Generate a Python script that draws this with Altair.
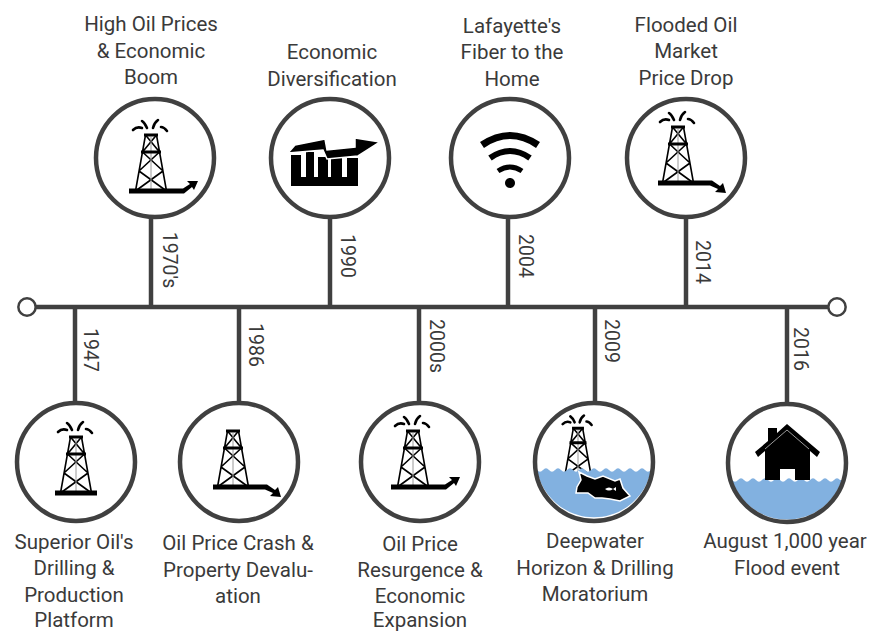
import altair as alt
import pandas as pd

INK = "#404040"
TEXT = "#3a3a3a"
BLACK = "#000000"
WATER = "#82b1e0"
FONT = "Roboto"
FS = 20.5

# Events
years = ["1947", "1970's", "1986", "1990", "2000s", "2004", "2009", "2014", "2016"]
stem_x = [75, 151, 239, 330, 419, 508, 595, 686, 787]
stem_y = [402, 218, 402, 218, 402, 218, 402, 218, 402]
year_x = [90, 169, 255, 347, 436, 525, 611, 702, 800]
year_y = [350, 260, 345, 256, 346, 256, 341, 262, 349]
circle_x = [76, 155, 239, 330, 420, 510, 594, 686, 787]
circle_y = [462, 158, 462, 158, 462, 158, 462, 158, 463]

# Timeline
line_x = [36]
line_x2 = [830]
line_y = [307]
end_x = [27, 837]
end_y = [307, 307]

# Label lines
label_text = [
    "Superior Oil's", "Drilling &", "Production", "Platform",
    "High Oil Prices", "& Economic", "Boom",
    "Oil Price Crash &", "Property Devalu-", "ation",
    "Economic", "Diversification",
    "Oil Price", "Resurgence &", "Economic", "Expansion",
    "Lafayette's", "Fiber to the", "Home",
    "Deepwater", "Horizon & Drilling", "Moratorium",
    "Flooded Oil", "Market", "Price Drop",
    "August 1,000 year", "Flood event",
]
label_x = [74, 74, 74, 74, 151, 151, 151, 238, 238, 238, 332, 332,
           420, 420, 420, 420, 512, 512, 512, 595, 595, 595, 686, 686, 686, 785, 787]
label_y = [543, 569, 596, 621, 25, 52, 78, 544, 571, 597, 53, 80,
           545, 571, 597, 621, 27, 53, 80, 542, 569, 595, 26, 52, 79, 542, 569]

# Glyphs, relative to their anchor
DERRICK = ("M-15.5 0L-5.5 -56M15.5 0L5.5 -56M-8.5 -39L8.5 -39M-5.5 -56L8.5 -39M5.5 -56L-8.5 -39"
           "M-8.5 -39L12 -20M8.5 -39L-12 -20M-12 -20L15.5 0M12 -20L-15.5 0")
MAST = "M0 -54L0 -2"
CAP = "M-7 -56L7 -56M-10 -39L10 -39"
SPLASH = "M-18 -61Q-14 -65 -9 -63M-9 -70Q-6 -68 -4 -63M7 -71Q3 -68 2 -63M10 -64Q13 -64 16 -60"
BASE = "M-21 -2.5L21 -2.5L21 2.5L-21 2.5Z"
UP = "M-22 -2.5L32 -2.5L39 -7L36 -10L47 -10L43 -1L41 -4L33 2.5L-22 2.5Z"
DOWN = "M-20 -2.5L34 -2.5L42 3L45 0L48 10L37 9L40 6L32 2.5L-20 2.5Z"
BODY = "M-39 -3L-24 -3L-24 -6L-12 -6L-12 -1L0 -1L0 0L28 0L28 28L-39 28Z"
SLITS = ("M-29 -6L-24 -6L-24 19L-29 19ZM-16 -6L-12 -6L-12 19L-16 19Z"
         "M-2 -6L1 -6L1 19L-2 19ZM12 -6L17 -6L17 19L12 19Z")
ROOF = "M-42 -5L-35 -13L-5 -19L-3 -8L25 -11L25 -20L50 -16L28 -2L-3 1L-7 -8Z"
WIFI_1 = "M-28 -13Q0 -32 28 -13"
WIFI_2 = "M-20 0Q0 -14 20 0"
WIFI_3 = "M-12 13Q0 5 12 13"
WIFI_DOT = "M-5 25A5 5 0 1 1 5 25A5 5 0 1 1 -5 25Z"
WAVES = "q3 3.5 6 0q3 -3.5 6 0"
WATER_A = "M-57 8" + WAVES * 9 + "q3 3.5 6 0l0 0A58 58 0 0 1 -57 8Z"
WATER_B = "M-55 17" + WAVES * 9 + "l2 0A58 58 0 0 1 -55 17Z"
OIL = ("M-15 10L-7 14L1 17L9 14L21 19L26 17L29 26L36 34L26 39L16 37L8 36L1 36L-6 31L-18 31"
       "L-17 25L-13 18Z")
FISH = "M11 27Q15 24 19 27L22 25L22 29L19 27Q15 30 11 27Z"
HOUSE = ("M0 -39L33 -11L30 -6L23 -12L23 17L8 17L8 6L-7 6L-7 17L-22 17L-22 -12L-29 -6L-32 -11"
         "L-19 -22L-19 -35L-10 -35L-10 -30Z")
RIDGE = "M-22 -14L0 -33L22 -14"

# anchor x, anchor y, glyph, fill, stroke, stroke width, drawing size
glyph_x = [76, 76, 76, 76, 151, 151, 151, 151, 233, 233, 233, 233, 413, 413, 413, 413,
           678, 678, 678, 678, 578, 578, 578,
           594, 594, 594,
           330, 330, 330, 510, 510, 510, 510, 787, 787, 787]
glyph_y = [493, 493, 493, 493, 191, 191, 191, 191, 487, 487, 487, 487, 487, 487, 487, 487,
           183, 183, 183, 183, 476, 476, 476,
           462, 462, 462,
           158, 158, 158, 158, 158, 158, 158, 463, 463, 463]
d = [DERRICK, MAST, CAP]
glyph_path = (d + [BASE] + d + [UP] + d + [DOWN] + d + [UP] + d + [DOWN] + d
              + [WATER_A, OIL, FISH]
              + [BODY, SLITS, ROOF, WIFI_1, WIFI_2, WIFI_3, WIFI_DOT, WATER_B, HOUSE, RIDGE])
N = "transparent"
G = "#9a9a9a"
dfill = [N, N, N]
dstroke = [BLACK, G, BLACK]
dwidth = [1.6, 1, 3]
glyph_fill = (dfill + [BLACK] + dfill + [BLACK] + dfill + [BLACK] + dfill + [BLACK] + dfill + [BLACK] + dfill
              + [WATER, BLACK, "#ffffff"]
              + [BLACK, "#ffffff", BLACK, N, N, N, BLACK, WATER, BLACK, N])
glyph_stroke = (dstroke + [BLACK] + dstroke + [BLACK] + dstroke + [BLACK] + dstroke + [BLACK] + dstroke + [BLACK] + dstroke
                + [N, "#ffffff", N]
                + [N, N, "#ffffff", BLACK, BLACK, BLACK, N, N, N, G])
glyph_sw = (dwidth + [0] + dwidth + [0] + dwidth + [0] + dwidth + [0] + dwidth + [0] + dwidth
            + [0, 1.5, 0]
            + [0, 0, 1.5, 7, 6, 5, 0, 0, 0, 1])
glyph_size = [4] * 20 + [2.9] * 3 + [4] * 13

splash_x = [76, 151, 413, 678, 578]
splash_y = [493, 191, 487, 183, 476]
splash_size = [4, 4, 4, 4, 2.9]

events = pd.DataFrame(dict(year=years, sx=stem_x, sy=stem_y, yx=year_x, yy=year_y, cx=circle_x, cy=circle_y))
labels = pd.DataFrame(dict(t=label_text, x=label_x, y=label_y))
glyphs = pd.DataFrame(dict(x=glyph_x, y=glyph_y, p=glyph_path, f=glyph_fill, s=glyph_stroke, w=glyph_sw, z=glyph_size))
splash = pd.DataFrame(dict(x=splash_x, y=splash_y, z=splash_size))
timeline = pd.DataFrame(dict(x=line_x, x2=line_x2, y=line_y))
ends = pd.DataFrame(dict(x=end_x, y=end_y))

xs = alt.Scale(domain=[8, 867])
ys = alt.Scale(domain=[634, 8])
X = lambda f: alt.X(f, type="quantitative", scale=xs, axis=None)
Y = lambda f: alt.Y(f, type="quantitative", scale=ys, axis=None)

stems = alt.Chart(events).mark_rule(color=INK, strokeWidth=4.5).encode(
    x=X("sx"), y=alt.Y("ly:Q", scale=ys, axis=None), y2="sy:Q"
).transform_calculate(ly="307")
line = alt.Chart(timeline).mark_rule(color=INK, strokeWidth=4.5).encode(x=X("x"), x2="x2:Q", y=Y("y"))
end_marks = alt.Chart(ends).mark_point(shape="circle", filled=True, fill="#ffffff", stroke=INK,
                                       strokeWidth=2.5, size=300, opacity=1).encode(x=X("x"), y=Y("y"))
discs = alt.Chart(events).mark_point(shape="circle", filled=True, fill="#ffffff", stroke="#ffffff",
                                     size=13924, opacity=1).encode(x=X("cx"), y=Y("cy"))
glyph_layers = []
for i, row in glyphs.iterrows():
    glyph_layers.append(
        alt.Chart(glyphs.iloc[[i]]).mark_point(
            shape=row.p, filled=True, opacity=1,
            fill=row.f, stroke=row.s, strokeWidth=float(row.w), size=float(row.z),
        ).encode(x=X("x"), y=Y("y"))
    )
splashes = alt.Chart(splash).mark_point(shape=SPLASH, filled=False, opacity=1, color=BLACK,
                                        strokeWidth=2.6, strokeCap="round").encode(
    x=X("x"), y=Y("y"), size=alt.Size("z:Q", scale=None, legend=None))
rings = alt.Chart(events).mark_point(shape="circle", filled=False, stroke=INK, strokeWidth=4.5,
                                     size=13924, opacity=1).encode(x=X("cx"), y=Y("cy"))
year_text = alt.Chart(events).mark_text(font=FONT, fontSize=19.5, color=TEXT, angle=90,
                                        align="center", baseline="middle").encode(
    x=X("yx"), y=Y("yy"), text="year:N")
label_marks = alt.Chart(labels).mark_text(font=FONT, fontSize=FS, color=TEXT,
                                          align="center", baseline="middle").encode(
    x=X("x"), y=Y("y"), text="t:N")

chart = alt.layer(stems, line, end_marks, discs, *glyph_layers, splashes, rings, year_text, label_marks).properties(
    width=859, height=626, padding=0, background="#ffffff", autosize=alt.AutoSizeParams(type="none")
).configure_view(stroke=None)

chart.save("out.html", embed_options={"renderer": "svg", "actions": False})
